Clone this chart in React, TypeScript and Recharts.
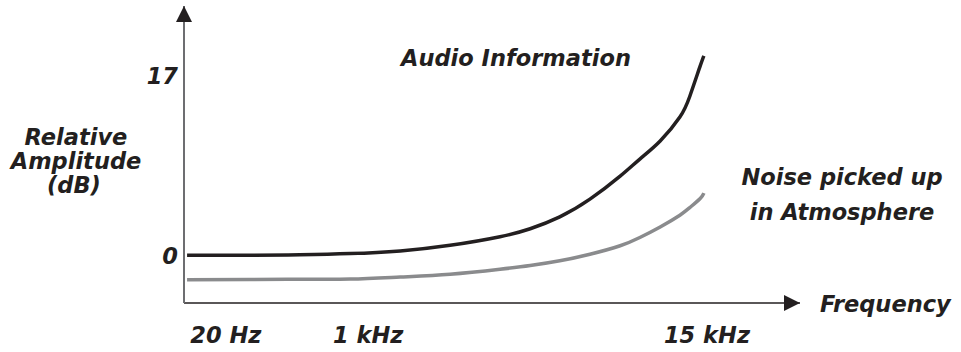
import React from 'react';
import { LineChart, Line, XAxis, YAxis } from 'recharts';

// horizontal position along the (unscaled) frequency axis, 0..100
const freqPos = [0.5, 10.7, 18.8, 27, 35.1, 43.2, 51.3, 56.2, 61.0, 65.9, 70.8, 74, 77.3, 80.5, 82.1, 83.8, 84.4];
const audioDb = [0, 0, 0.05, 0.16, 0.41, 0.94, 1.75, 2.5, 3.62, 5.29, 7.46, 9.07, 10.77, 13.03, 14.97, 17.85, 18.8];
const noiseDb = [-2.3, -2.28, -2.25, -2.24, -2.05, -1.79, -1.32, -0.97, -0.52, 0.1, 0.9, 1.68, 2.67, 3.78, 4.49, 5.36, 5.86];

const xTicks = [6.8, 29.9, 84.9];
const xTickLabels = ['20 Hz', '1 kHz', '15 kHz'];
const yTicks = [0, 17];

const data = freqPos.map((f, i) => ({ f, audio: audioDb[i], noise: noiseDb[i] }));

const FONT = '"DejaVu Sans", Arial, sans-serif';
const INK = '#231f20';

const textStyle: React.CSSProperties = {
  fontFamily: FONT,
  fontWeight: 'bold',
  fontStyle: 'italic',
  fontSize: 22.5,
  fill: INK,
};

const XTick = ({ x, y, payload }: any) => {
  const i = xTicks.indexOf(payload.value);
  return (
    <text x={x} y={y + 32} textAnchor="middle" style={textStyle}>
      {xTickLabels[i]}
    </text>
  );
};

const YTick = ({ x, y, payload }: any) => (
  <text x={x + 2} y={y + 9} textAnchor="end" style={textStyle}>
    {payload.value}
  </text>
);

export default function App() {
  return (
    <div style={{ position: 'absolute', left: 0, top: 0 }}>
      <LineChart
        width={961}
        height={352}
        data={data}
        margin={{ top: 6, right: 161, left: 124, bottom: 19 }}
      >
        <defs>
          <marker
            id="arrowHead"
            viewBox="0 0 10 10"
            refX="10"
            refY="5"
            markerUnits="userSpaceOnUse"
            markerWidth="19"
            markerHeight="16"
            orient="auto-start-reverse"
          >
            <path d="M0,0 L10,5 L0,10 z" fill={INK} />
          </marker>
        </defs>
        <XAxis
          dataKey="f"
          type="number"
          domain={[0, 100]}
          ticks={xTicks}
          tick={<XTick />}
          tickLine={false}
          height={30}
          axisLine={{ stroke: INK, strokeWidth: 1.5, markerEnd: 'url(#arrowHead)' }}
        />
        <YAxis
          type="number"
          domain={[-4.5, 23.5]}
          ticks={yTicks}
          tick={<YTick />}
          tickLine={false}
          width={60}
          axisLine={{ stroke: '#6d6e71', strokeWidth: 2, markerStart: 'url(#arrowHead)' }}
        />
        <Line
          dataKey="noise"
          type="natural"
          stroke="#8a8b8d"
          strokeWidth={3.5}
          dot={false}
          isAnimationActive={false}
        />
        <Line
          dataKey="audio"
          type="natural"
          stroke={INK}
          strokeWidth={3.5}
          dot={false}
          isAnimationActive={false}
        />
        <text x={516} y={66} textAnchor="middle" style={textStyle}>Audio Information</text>
        <text x={76} y={145} textAnchor="middle" style={textStyle}>Relative</text>
        <text x={76} y={169} textAnchor="middle" style={textStyle}>Amplitude</text>
        <text x={74} y={193} textAnchor="middle" style={textStyle}>(dB)</text>
        <text x={842} y={185} textAnchor="middle" style={textStyle}>Noise picked up</text>
        <text x={842} y={220} textAnchor="middle" style={textStyle}>in Atmosphere</text>
        <text x={820} y={312} style={textStyle}>Frequency</text>
      </LineChart>
    </div>
  );
}
